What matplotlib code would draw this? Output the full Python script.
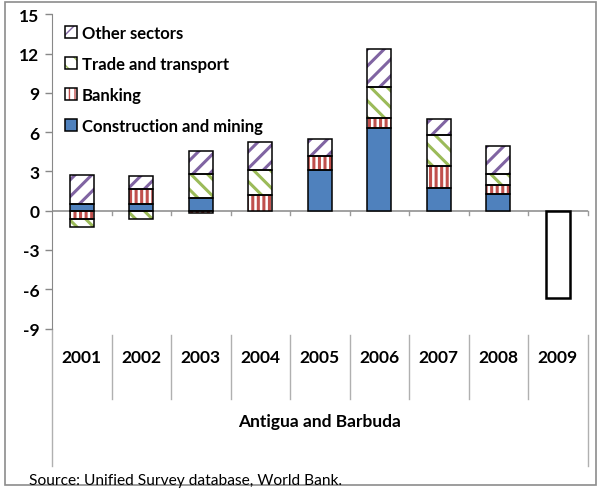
import numpy as np
import matplotlib
matplotlib.use("Agg")
import matplotlib.pyplot as plt
from matplotlib.patches import Rectangle
from matplotlib.legend_handler import HandlerTuple
from matplotlib.transforms import blended_transform_factory

plt.rcParams['font.family'] = ['Lato', 'DejaVu Sans']

years = ['2001', '2002', '2003', '2004', '2005', '2006', '2007', '2008', '2009']
construction = [0.51, 0.51, 0.97, 0.00, 3.13, 6.29, 1.71, 1.28, 0.00]
banking = [-0.63, 1.15, -0.20, 1.18, 1.03, 0.77, 1.73, 0.68, 0.00]
trade = [-0.59, -0.63, 1.83, 1.93, 0.00, 2.41, 2.34, 0.87, 0.00]
other = [2.22, 0.97, 1.78, 2.11, 1.32, 2.88, 1.22, 2.09, 0.00]
total_only = [0, 0, 0, 0, 0, 0, 0, 0, -6.65]

series = [
    ('Construction and mining', construction, dict(face='#4F81BD', hatch=None, hcol=None)),
    ('Banking', banking, dict(face='white', hatch='|||', hcol='#C0504D')),
    ('Trade and transport', trade, dict(face='white', hatch='\\\\', hcol='#9BBB59')),
    ('Other sectors', other, dict(face='white', hatch='//', hcol='#8064A2')),
]

W, H = 598, 489
fig = plt.figure(figsize=(W / 100, H / 100), dpi=100)
ax = fig.add_axes([52 / W, 1 - 329.5 / H, (587.5 - 52) / W, (329.5 - 15.3) / H])

x = np.arange(len(years))
bw = 0.40
pos_base = np.zeros(len(years))
neg_base = np.zeros(len(years))
handles = {}
for name, vals, st in series:
    v = np.array(vals, dtype=float)
    bottoms = np.where(v >= 0, pos_base, neg_base)
    mask = v != 0
    with plt.rc_context({'hatch.linewidth': 2.2}):
        if st['hatch']:
            fill = ax.bar(x[mask], v[mask], bw, bottom=bottoms[mask], color='white',
                          edgecolor=st['hcol'], hatch=st['hatch'], linewidth=0, zorder=2)
        else:
            fill = ax.bar(x[mask], v[mask], bw, bottom=bottoms[mask], color=st['face'],
                          linewidth=0, zorder=2)
    outline = ax.bar(x[mask], v[mask], bw, bottom=bottoms[mask], fill=False,
                     edgecolor='black', linewidth=1.1, zorder=3)
    handles[name] = (fill.patches[0], outline.patches[0])
    pos_base = pos_base + np.where(v > 0, v, 0)
    neg_base = neg_base + np.where(v < 0, v, 0)

t = np.array(total_only, dtype=float)
tm = t != 0
ax.bar(x[tm], t[tm], bw, color='white', edgecolor='black', linewidth=1.8, zorder=3)

ax.set_xlim(-0.5, len(years) - 0.5)
ax.set_ylim(-9, 15)
ax.set_yticks(np.arange(-9, 16, 3))
ax.set_yticklabels([str(v) for v in range(-9, 16, 3)], fontsize=12.5, fontweight='bold')
ax.tick_params(axis='y', direction='out', length=5, width=1, color='#888888', pad=4)
ax.set_xticks([])
for s in ['top', 'right', 'bottom']:
    ax.spines[s].set_visible(False)
ax.spines['left'].set_color('#888888')
ax.spines['left'].set_bounds(-9, 15)

grey = '#9A9A9A'
ax.axhline(0, color=grey, lw=1.3, zorder=1)
for b in np.arange(0.5, len(years) - 0.5 + 1e-9, 1.0):
    ax.plot([b, b], [0, -0.35], color=grey, lw=1.0, clip_on=False, zorder=1)

bt = blended_transform_factory(ax.transData, ax.transAxes)
for b in np.arange(0.5, len(years) - 0.5, 1.0):
    ax.plot([b, b], [-0.02, -0.224], color='#B0B0B0', lw=1.0, transform=bt, clip_on=False)
ax.plot([-0.5, -0.5], [0, -0.437], color='#B0B0B0', lw=1.0, transform=bt, clip_on=False)
ax.plot([len(years) - 0.5] * 2, [-0.02, -0.437], color='#B0B0B0', lw=1.0, transform=bt, clip_on=False)

for xi, yr in zip(x, years):
    ax.text(xi, -0.092, yr, transform=bt, ha='center', va='center', fontsize=12.5, fontweight='bold')
ax.text(0.5, -0.295, 'Antigua and Barbuda', transform=ax.transAxes, ha='center', va='center',
        fontsize=12.5, fontweight='bold')

order = ['Other sectors', 'Trade and transport', 'Banking', 'Construction and mining']
leg = ax.legend([handles[n] for n in order], order, loc='upper left',
                bbox_to_anchor=(0.005, 0.998), frameon=False,
                handler_map={tuple: HandlerTuple(ndivide=1)},
                prop={'size': 12, 'weight': 'bold'}, handlelength=0.72, handleheight=0.72,
                handletextpad=0.3, labelspacing=0.9, borderaxespad=0.2)

fig.patches.append(Rectangle((5 / W, 3 / H), (596 - 5) / W, (486 - 3) / H, transform=fig.transFigure,
                             fill=False, edgecolor='#8C8C8C', linewidth=1.2))
fig.text(29 / W, 1 - 481 / H, 'Source: Unified Survey database, World Bank.', fontsize=11.2,
         ha='left', va='center')

fig.savefig('out.png', dpi=100)
